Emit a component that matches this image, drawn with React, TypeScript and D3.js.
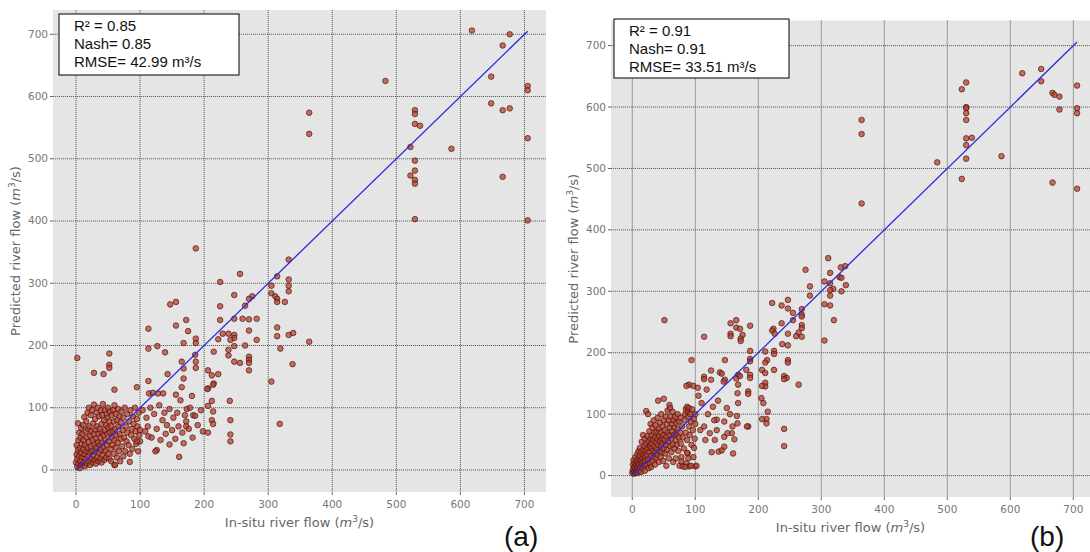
import React from "react";
import * as d3 from "d3";

// tick values shared by both panels
const tickValues = [0, 100, 200, 300, 400, 500, 600, 700];

// panel (a) : [in-situ, predicted]
const clusterA: number[][] = [
  [0,12],[1,25],[1,40],[2,5],[2,18],[3,32],[3,75],[4,10],[4,48],[5,22],[5,60],[6,3],[6,35],[7,14],[7,52],[8,28],[8,68],[9,8],[9,42],[10,20],[10,58],
  [11,33],[11,72],[12,12],[12,48],[13,25],[13,85],[14,6],[14,40],[15,62],[15,18],[16,30],[16,78],[17,10],[17,52],[18,36],[18,92],[19,22],[19,66],[20,14],[20,45],[20,100],
  [21,28],[21,70],[22,8],[22,55],[23,38],[23,88],[24,18],[24,62],[25,30],[25,96],[26,12],[26,48],[27,75],[27,24],[28,58],[28,105],[29,16],[29,40],[30,82],[30,30],[30,65],
  [31,10],[31,50],[32,92],[32,36],[33,20],[33,70],[34,44],[34,100],[35,14],[35,58],[36,28],[36,86],[37,40],[37,66],[38,18],[38,52],[39,96],[39,32],[40,74],[40,12],[40,60],
  [41,44],[41,88],[42,24],[42,106],[43,56],[43,36],[44,80],[44,16],[45,64],[45,96],[46,30],[46,48],[47,72],[47,20],[48,90],[48,40],[49,58],[49,84],[50,26],[50,68],[50,100],
  [51,46],[52,18],[52,78],[53,60],[53,94],[54,34],[55,70],[55,14],[56,52],[56,88],[57,40],[58,62],[58,96],[59,26],[59,78],[60,48],[60,8],[60,104],
  [61,66],[62,36],[62,90],[63,56],[64,20],[64,80],[65,44],[66,70],[66,98],[67,30],[68,58],[68,86],[69,14],[70,50],[70,76],
  [71,94],[72,38],[73,64],[74,22],[74,84],[75,52],[76,100],[77,30],[78,70],[79,46],[80,90],[80,60],
  [82,40],[83,78],[84,26],[85,96],[86,56],[87,66],[88,34],[89,86],[90,74],[91,50],[92,100],[93,62],[94,42],[95,82],[96,70],[97,30],[98,92],[99,56],[100,46],[100,64],
];
const midA: number[][] = [
  [187,356],[332,338],[256,315],[225,302],[314,311],[332,306],[332,296],[332,287],[305,296],[305,284],[311,279],[314,275],[314,270],[326,270],
  [247,281],[275,279],[270,275],[264,264],[225,263],[147,266],[156,270],[172,241],[225,241],[247,243],[260,243],[270,242],[282,243],[113,227],
  [156,232],[175,223],[314,229],[270,224],[187,211],[187,204],[168,204],[229,219],[238,219],[247,217],[247,212],[241,209],[222,210],[314,215],
  [332,217],[339,220],[364,206],[282,209],[264,200],[247,199],[319,195],[127,199],[113,195],[139,189],[215,190],[238,193],[238,184],[52,187],
  [2,180],[52,169],[52,164],[28,156],[43,154],[165,174],[187,174],[187,164],[168,163],[186,185],[270,182],[270,177],[270,172],[247,174],
  [256,172],[270,160],[338,170],[206,160],[212,152],[222,154],[143,154],[168,147],[215,139],[305,142],[113,143],[95,133],[165,133],[60,129],
  [206,131],[114,123],[120,124],[128,123],[136,123],[156,121],[181,119],[205,130],[214,137],[240,111],[318,74],[241,80],[241,57],[241,46],
  [206,103],[212,111],[214,94],[206,60],[212,80],[214,74],[183,88],[186,87],[173,98],[172,78],[172,70],[168,43],[161,21],[146,41],[126,32],
  [124,30],[113,54],[95,46],[84,13],[61,8],[104,96],[108,62],[110,84],[112,70],[116,100],[118,52],[122,90],[126,66],[130,104],[132,48],
  [135,80],[138,92],[140,58],[142,72],[146,98],[150,64],[152,84],[155,50],[158,92],[160,70],[163,112],[166,60],[170,88],[176,66],[178,100],
  [182,52],[190,72],[195,96],[198,62],
];
const highA: number[][] = [
  [618,706],[677,700],[666,682],[483,625],[648,632],[705,617],[705,610],[364,574],[364,540],[648,589],[666,578],[677,581],[529,578],[529,572],
  [529,556],[537,553],[522,519],[586,516],[705,533],[529,497],[529,481],[522,473],[529,466],[529,460],[666,471],[529,403],[705,401],
];

// panel (b)
const clusterB: number[][] = [
  [0,5],[1,10],[1,18],[2,3],[2,25],[3,8],[3,14],[4,20],[4,6],[5,12],[5,30],[6,4],[6,16],[7,24],[7,9],[8,35],[8,13],[9,20],[9,5],[10,28],[10,12],[10,40],
  [11,18],[11,8],[12,32],[12,45],[13,14],[13,24],[14,38],[14,6],[15,20],[15,55],[16,28],[16,12],[17,42],[17,66],[18,22],[18,34],[19,16],[19,48],[20,30],[20,60],[20,8],
  [21,40],[21,24],[22,105],[22,52],[23,18],[23,34],[24,64],[24,44],[25,100],[25,26],[26,56],[26,12],[27,38],[27,72],[28,48],[28,20],[29,60],[29,84],[30,32],[30,44],[30,14],
  [31,66],[31,52],[32,24],[32,78],[33,40],[33,58],[34,90],[34,30],[35,48],[35,70],[36,18],[36,62],[37,38],[37,82],[38,54],[38,28],[39,72],[39,44],[40,60],[40,94],[40,34],
  [41,122],[41,50],[42,76],[42,22],[43,64],[43,40],[44,86],[44,56],[45,30],[45,70],[46,48],[46,100],[47,60],[47,38],[48,80],[48,52],[49,24],[49,66],[50,125],[50,44],[50,90],
  [51,58],[52,74],[52,36],[53,96],[53,50],[54,64],[54,16],[55,84],[55,42],[56,70],[56,106],[57,56],[58,28],[58,90],[59,66],[59,115],[60,48],[60,78],[60,110],
  [61,96],[62,60],[62,38],[63,84],[63,72],[64,50],[64,104],[65,22],[65,90],[66,66],[67,78],[67,44],[68,96],[69,58],[69,28],[70,86],[70,68],
  [71,50],[72,100],[72,76],[73,40],[74,88],[74,62],[75,16],[76,70],[77,94],[77,52],[78,30],[79,80],[80,62],[80,15],
  [82,44],[83,90],[84,100],[85,108],[85,70],[86,20],[87,112],[87,58],[88,104],[88,36],[89,96],[90,110],[90,80],[90,15],[91,66],[92,100],
  [93,88],[94,50],[95,108],[96,74],[97,30],[98,92],[99,60],[100,15],[100,100],[100,84],
];
const midB: number[][] = [
  [311,354],[275,335],[314,330],[331,339],[338,341],[329,323],[332,322],[305,316],[314,313],[339,310],[319,304],[314,302],[332,300],[282,308],
  [282,293],[314,293],[305,279],[314,277],[320,253],[305,220],[247,286],[237,277],[222,281],[247,272],[255,265],[269,271],[269,262],[269,259],
  [255,253],[237,248],[269,245],[269,240],[224,239],[222,236],[226,231],[247,231],[264,233],[260,227],[269,226],[238,214],[247,212],[211,202],
  [225,203],[225,198],[187,203],[187,190],[187,186],[247,188],[247,184],[214,188],[211,184],[206,172],[211,167],[225,172],[241,162],[245,159],
  [241,157],[264,148],[211,151],[211,145],[206,146],[181,172],[168,164],[168,148],[165,158],[171,162],[187,164],[187,159],[147,188],[139,168],
  [142,166],[125,171],[147,156],[145,153],[114,161],[114,157],[94,188],[51,253],[114,226],[156,248],[165,253],[165,241],[171,239],[156,231],
  [156,227],[175,229],[172,223],[172,219],[187,244],[125,156],[241,76],[241,48],[213,92],[213,85],[206,92],[215,104],[205,126],[208,118],
  [184,80],[182,80],[184,137],[184,133],[168,118],[167,134],[166,97],[167,85],[159,80],[158,69],[162,59],[160,36],[146,63],[137,39],[142,41],
  [146,47],[126,38],[151,69],[134,91],[146,88],[134,74],[123,69],[116,58],[131,58],[108,74],[114,80],[93,16],[102,16],[84,14],[78,23],
  [89,28],[87,37],[98,45],[120,100],[128,112],[136,122],[105,130],[110,118],[150,110],[155,100],[118,140],[130,90],[90,148],[97,146],
  [104,143],[86,146],
];
const highB: number[][] = [
  [619,655],[649,662],[649,642],[667,623],[670,620],[678,617],[678,596],[706,635],[706,598],[706,590],[530,640],[523,629],[530,600],[530,598],
  [530,590],[530,579],[364,579],[364,556],[364,443],[530,549],[539,550],[530,538],[530,516],[484,510],[586,520],[523,483],[667,477],[706,467],
];

const statsA = ["R² = 0.85", "Nash= 0.85", "RMSE= 42.99 m³/s"];
const statsB = ["R² = 0.91", "Nash= 0.91", "RMSE= 33.51 m³/s"];

const tickFont = "DejaVu Sans";

function Panel(props: any) {
  const { pts, stats, tag, box, xDom, yDom, statBox, tagX } = props;
  const [x0, y0, x1, y1] = box;
  const x = d3.scaleLinear().domain(xDom).range([x0, x1]);
  const y = d3.scaleLinear().domain(yDom).range([y1, y0]);
  const lineMax = d3.max(pts, (d: number[]) => d[0]) as number;
  const cx = (x0 + x1) / 2, cy = (y0 + y1) / 2;
  return (
    <g>
      <rect x={x0} y={y0} width={x1 - x0} height={y1 - y0} fill="#e5e5e5" />
      {tickValues.map(t => (
        <g key={"g" + t}>
          <line x1={x(t)} x2={x(t)} y1={y0} y2={y1} stroke="#666" strokeWidth={1} strokeDasharray="1.2,0.8" />
          <line x1={x0} x2={x1} y1={y(t)} y2={y(t)} stroke="#666" strokeWidth={1} strokeDasharray="1.2,0.8" />
          <line x1={x(t)} x2={x(t)} y1={y1} y2={y1 + 3} stroke="#666" />
          <line x1={x0 - 3} x2={x0} y1={y(t)} y2={y(t)} stroke="#666" />
          <text x={x(t)} y={y1 + 16} fontSize={10.5} fill="#777" textAnchor="middle" fontFamily={tickFont}>{t}</text>
          <text x={x0 - 5} y={y(t) + 3.5} fontSize={10.5} fill="#777" textAnchor="end" fontFamily={tickFont}>{t}</text>
        </g>
      ))}
      {pts.map((d: number[], i: number) => (
        <circle key={i} cx={x(d[0])} cy={y(d[1])} r={2.8} fill="#b9402f" fillOpacity={0.75}
          stroke="#3a0f08" strokeOpacity={0.8} strokeWidth={0.8} />
      ))}
      <line x1={x(0)} y1={y(0)} x2={x(lineMax)} y2={y(lineMax)} stroke="#2a2ae0" strokeWidth={1.3} />
      <rect x={statBox[0]} y={statBox[1]} width={statBox[2]} height={statBox[3]} fill="#fff" stroke="#000" strokeWidth={1} />
      {stats.map((s: string, i: number) => (
        <text key={s} x={statBox[0] + 15} y={statBox[1] + 17 + i * 18.2} fontSize={15} fontFamily="Liberation Sans, Arial" fill="#111">{s}</text>
      ))}
      <text x={cx} y={y1 + 35} fontSize={13} fill="#666" textAnchor="middle" fontFamily={tickFont}>
        In-situ river flow (<tspan fontStyle="italic">m</tspan><tspan fontSize={9} dy={-5}>3</tspan><tspan dy={5}>/s)</tspan>
      </text>
      <text transform={`translate(${x0 - 33},${cy}) rotate(-90)`} fontSize={13} fill="#666" textAnchor="middle" fontFamily={tickFont}>
        Predicted river flow (<tspan fontStyle="italic">m</tspan><tspan fontSize={9} dy={-5}>3</tspan><tspan dy={5}>/s)</tspan>
      </text>
      <text x={tagX} y={546} fontSize={28} fontFamily="Liberation Sans, Arial" fill="#111">{tag}</text>
    </g>
  );
}

export default function App() {
  const ptsA = [...clusterA, ...midA, ...highA];
  const ptsB = [...clusterB, ...midB, ...highB];
  return (
    <div style={{ position: "absolute", left: 0, top: 0 }}>
      <svg width={1090} height={552} style={{ display: "block", background: "#fff" }}>
        <Panel pts={ptsA} stats={statsA} tag="(a)" box={[53, 10, 546, 492]} xDom={[-35.9, 733.6]} yDom={[-35.4, 739]}
          statBox={[59, 14, 180, 61]} tagX={504} />
        <Panel pts={ptsB} stats={statsB} tag="(b)" box={[611, 20.5, 1090, 497]} xDom={[-33.8, 726.5]} yDom={[-34.9, 740.9]}
          statBox={[614, 19, 175, 59]} tagX={1030} />
      </svg>
    </div>
  );
}
